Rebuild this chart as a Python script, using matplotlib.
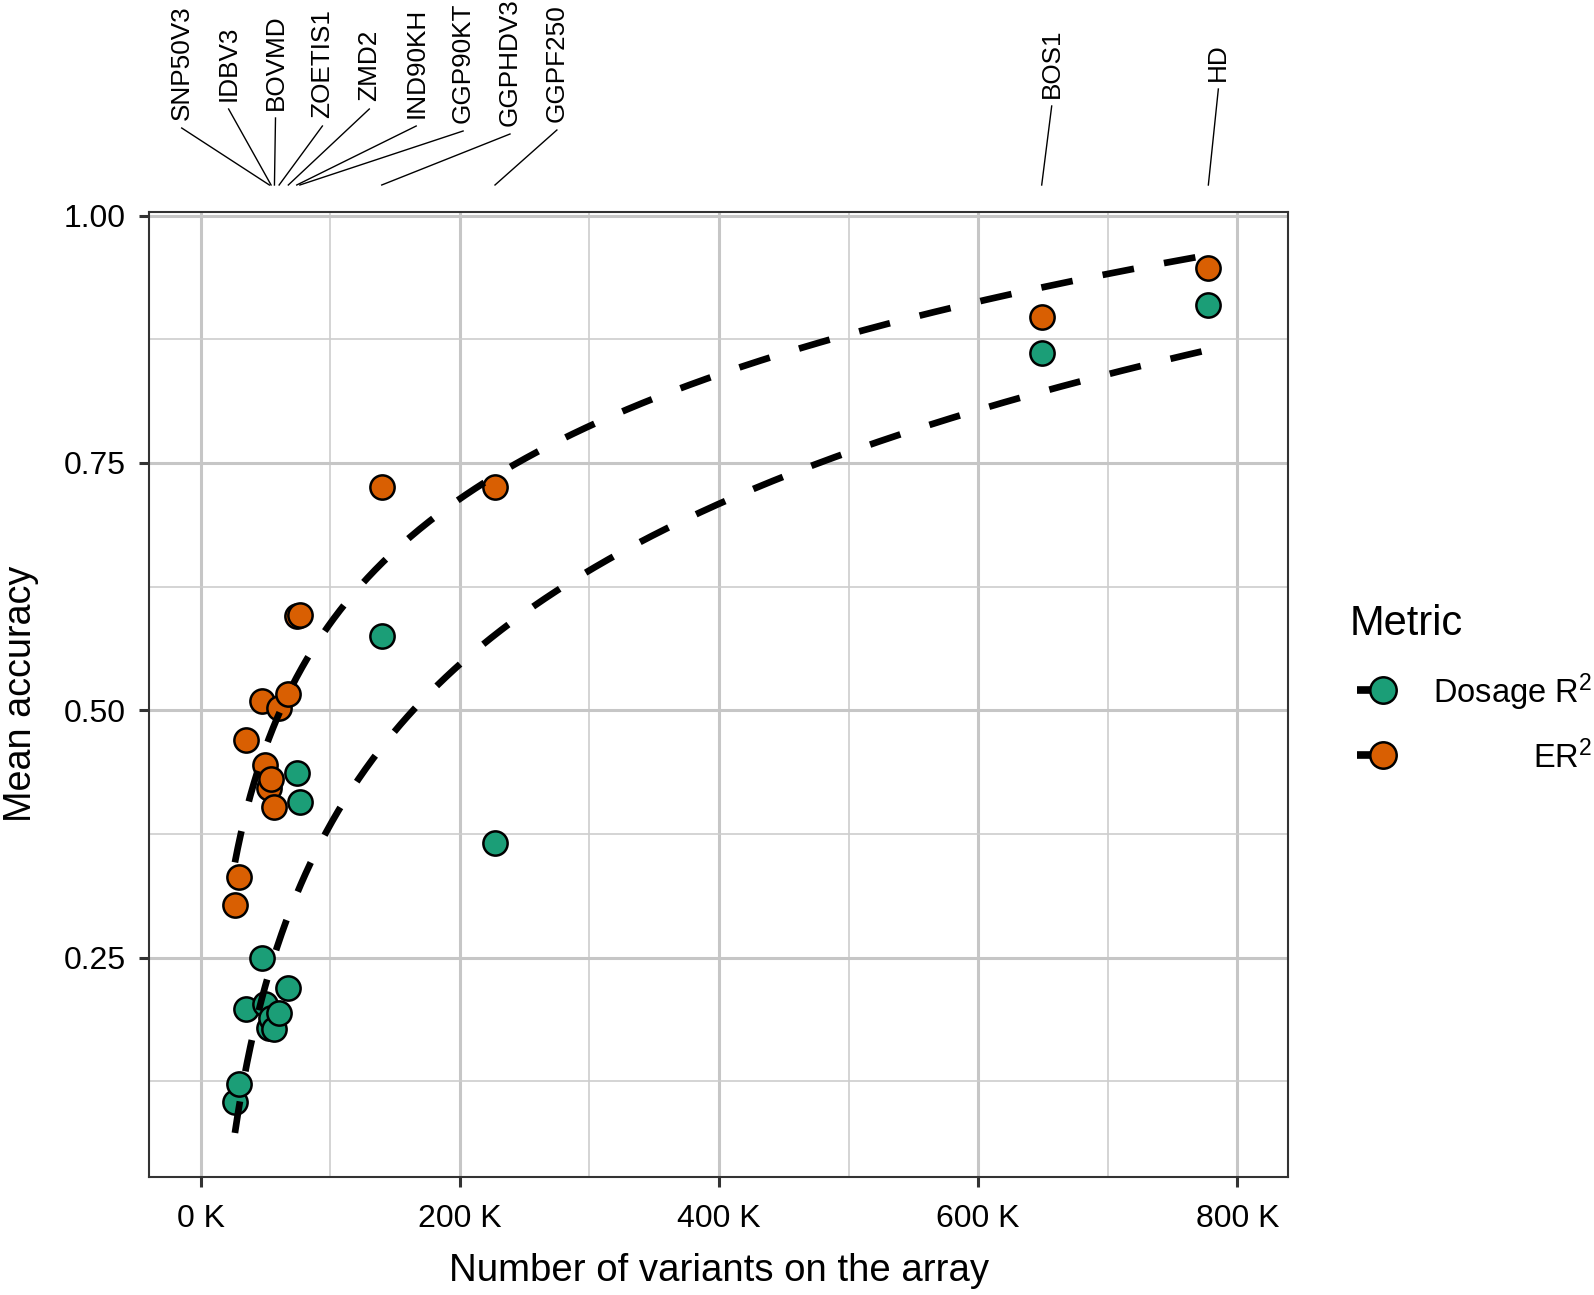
import numpy as np
import matplotlib
matplotlib.use("Agg")
import matplotlib.pyplot as plt
from matplotlib.lines import Line2D
from matplotlib.ticker import MultipleLocator, FixedLocator

plt.rcParams['font.family'] = ['Liberation Sans', 'DejaVu Sans']
plt.rcParams['mathtext.fontset'] = 'custom'
plt.rcParams['mathtext.rm'] = 'Liberation Sans'
plt.rcParams['mathtext.it'] = 'Liberation Sans:italic'
plt.rcParams['lines.scale_dashes'] = False

# ---- data (variants in thousands) ----
variants_k = [26.4, 29.6, 35.2, 47.2, 49.5, 53.0, 54.3, 56.9, 60.5, 67.6,
              74.1, 76.5, 139.7, 227.1, 649.0, 777.6]
array_names = ["", "", "", "", "", "SNP50V3", "IDBV3", "BOVMD", "ZOETIS1", "ZMD2",
               "IND90KH", "GGP90KT", "GGPHDV3", "GGPF250", "BOS1", "HD"]
dosage_r2 = [0.104, 0.122, 0.198, 0.250, 0.203, 0.179, 0.189, 0.1775, 0.194, 0.219,
             0.4365, 0.4076, 0.5755, 0.366, 0.861, 0.910]
er2 = [0.303, 0.332, 0.470, 0.509, 0.445, 0.421, 0.431, 0.402, 0.502, 0.517,
       0.595, 0.596, 0.726, 0.7255, 0.898, 0.947]
x_ticks = [0, 200, 400, 600, 800]
x_tick_labels = ["0 K", "200 K", "400 K", "600 K", "800 K"]
y_ticks = [0.25, 0.50, 0.75, 1.00]
y_tick_labels = ["0.25", "0.50", "0.75", "1.00"]
metric_labels = ["Dosage R$^{2}$", "ER$^{2}$"]

GREEN = "#1B9E77"
ORANGE = "#D95F02"

W, H = 1594, 1295
fig = plt.figure(figsize=(W / 100, H / 100), dpi=100)

def fx(px):
    return px / W

def fy(py):
    return 1 - py / H

left, right, top, bottom = 149.4, 1288.3, 211.7, 1176.7
ax = fig.add_axes([fx(left), fy(bottom), fx(right - left), (bottom - top) / H])

ax.set_xlim(-39.6, 839.3)
ax.set_ylim(0.0286, 1.004)

ax.xaxis.set_major_locator(FixedLocator(x_ticks))
ax.xaxis.set_minor_locator(MultipleLocator(100))
ax.yaxis.set_major_locator(FixedLocator(y_ticks))
ax.yaxis.set_minor_locator(MultipleLocator(0.125))
ax.set_xticklabels(x_tick_labels)
ax.set_yticklabels(y_tick_labels)

ax.grid(which='major', color='#C6C6C6', lw=2.2, zorder=0)
ax.grid(which='minor', color='#CDCDCD', lw=1.2, zorder=0)
ax.set_axisbelow(True)

ax.tick_params(which='major', length=7.2, width=2.2, color='#333333',
               labelsize=23, labelcolor='black')
ax.tick_params(axis='x', which='major', pad=12.5)
ax.tick_params(axis='y', which='major', pad=10)
ax.tick_params(which='minor', length=0)
for s in ax.spines.values():
    s.set_color('#333333')
    s.set_linewidth(1.5)

x = np.array(variants_k)
for yvals, col in [(dosage_r2, GREEN), (er2, ORANGE)]:
    ax.scatter(x, yvals, s=305, color=col, edgecolor='black', linewidth=1.8, zorder=3)

# log-linear fits (as geom_smooth, formula y ~ log(x))
xx = np.geomspace(x.min(), x.max(), 300)
for yvals in [dosage_r2, er2]:
    b, a = np.polyfit(np.log(x), np.array(yvals), 1)
    ax.plot(xx, a + b * np.log(xx), color='black', lw=4.8,
            linestyle=(0, (23, 22)), solid_capstyle='butt', dash_capstyle='butt', zorder=4)

# axis titles
fig.text(fx(719), fy(1281), "Number of variants on the array", ha='center', va='baseline',
         fontsize=27.6)
fig.text(fx(21), fy(694), "Mean accuracy", ha='center', va='center', rotation=90,
         fontsize=27.2)

# top repelled labels
fig.canvas.draw()
label_idx = [i for i, n in enumerate(array_names) if n]
label_bottoms = [120, 101, 110, 118, 101, 118, 123, 126, 122, 98, 81]
cluster_start, cluster_step = 181.7, 46.9
for k, i in enumerate(label_idx):
    px_point = ax.transData.transform((variants_k[i], 0.5))[0]
    if k < 9:
        lx = cluster_start + k * cluster_step
    else:
        lx = px_point + 10
    lb = label_bottoms[k]
    fig.text(fx(lx), fy(lb), array_names[i], rotation=90, ha='center', va='bottom',
             fontsize=18.8)
    fig.add_artist(Line2D([fx(lx), fx(px_point)], [fy(lb + 8), fy(185)],
                          transform=fig.transFigure, color='black', lw=1.0))

# legend
fig.text(fx(1350), fy(635), "Metric", ha='left', va='baseline', fontsize=30)
for cy, col, lab, base in [(690, GREEN, metric_labels[0], 703), (755, ORANGE, metric_labels[1], 768)]:
    fig.add_artist(Line2D([fx(1356.7), fx(1383)], [fy(cy), fy(cy)], transform=fig.transFigure,
                          color='black', lw=5.5, solid_capstyle='butt'))
    fig.add_artist(Line2D([fx(1382.7)], [fy(cy)], transform=fig.transFigure, marker='o',
                          markersize=19, markerfacecolor=col, markeredgecolor='black',
                          markeredgewidth=1.8, linestyle='none'))
    fig.text(fx(1592), fy(base), lab, ha='right', va='baseline', fontsize=23.5)

fig.savefig("out.png", dpi=100)
